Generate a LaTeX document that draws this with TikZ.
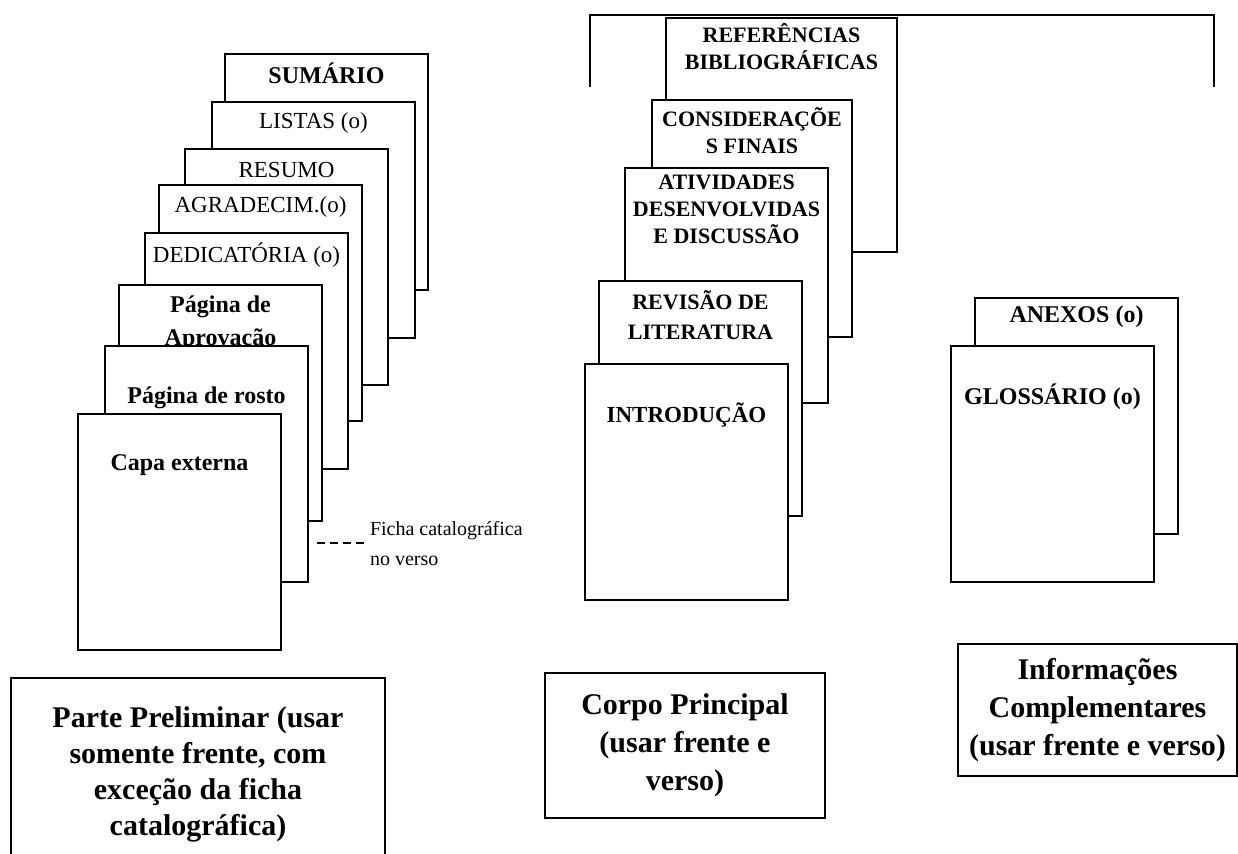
\documentclass[tikz,border=0pt]{standalone}
\usepackage{fontspec}
\setmainfont{Liberation Serif}
\usetikzlibrary{positioning}

\begin{document}
\begin{tikzpicture}[x=0.5pt,y=-0.5pt,line width=1pt]
\tikzstyle{page}=[draw, fill=white, anchor=north west, minimum width=101.5pt, minimum height=118pt, inner sep=0pt]
\tikzstyle{txt}=[align=center, inner sep=0pt, font=\fontsize{11.5}{13.8}\selectfont]
\tikzstyle{btxt}=[txt, font=\fontsize{12}{13.8}\selectfont\bfseries]
\tikzstyle{mtxt}=[txt, font=\fontsize{11}{13.5}\selectfont\bfseries]
\tikzstyle{part}=[draw, align=center, font=\fontsize{15}{18}\selectfont\bfseries]
\path[use as bounding box, fill=white] (0,0) rectangle (1238,854);

% parte preliminar
\node[page] (sumario) at (224,53) {};
\node[btxt] (sumariotxt) at ([yshift=-10pt]sumario.north) {SUMÁRIO};
\node[page] (listas) at (211,101) {};
\node[txt] (listastxt) at ([yshift=-11pt]listas.north) {LISTAS (o)};
\node[page] (resumo) at (184,148) {};
\node[txt] (resumotxt) at ([yshift=-11pt]resumo.north) {RESUMO};
\node[page] (agradec) at (158,184) {};
\node[txt] (agradectxt) at ([yshift=-11.5pt]agradec.north) {AGRADECIM.(o)};
\node[page] (dedic) at (144,232) {};
\node[txt] (dedictxt) at ([yshift=-11.5pt]dedic.north) {DEDICATÓRIA (o)};
\node[page] (aprov) at (118,284) {};
\node[btxt, font=\fontsize{12}{16.5}\selectfont\bfseries] (aprovtxt) at ([yshift=-19.75pt]aprov.north) {Página de\\Aprovação};
\node[page] (rosto) at (104,345) {};
\node[btxt] (rostotxt) at ([yshift=-26.5pt]rosto.north) {Página de rosto};
\node[page] (capa) at (77,413) {};
\node[btxt] (capatxt) at ([yshift=-26pt]capa.north) {Capa externa};
\node[anchor=west, align=left, inner sep=1.5pt, font=\fontsize{10}{15}\selectfont] (ficha) at (366,544) {Ficha catalográfica\\no verso};
\coordinate (fichadash) at (317,543);
\draw[line width=0.6pt, dash pattern=on 4pt off 2.5pt] (fichadash) -- (fichadash -| ficha.west);

% corpo principal
\draw[line width=1.2pt] (590,87) |- (1214,15) -- (1214,87);
\node[page, minimum width=115.5pt, minimum height=117pt] (refs) at (665,17) {};
\node[mtxt] (refstxt) at ([yshift=-14.75pt]refs.north) {REFERÊNCIAS\\BIBLIOGRÁFICAS};
\node[page, minimum width=100pt, minimum height=118.5pt] (consid) at (651,99) {};
\node[mtxt] (considtxt) at ([yshift=-15.75pt]consid.north) {CONSIDERAÇÕE\\S FINAIS};
\node[page, minimum height=117.5pt] (ativ) at (624,167) {};
\node[mtxt] (ativtxt) at ([yshift=-21pt]ativ.north) {ATIVIDADES\\DESENVOLVIDAS\\E DISCUSSÃO};
\node[page, minimum height=117.5pt] (revisao) at (598,280) {};
\node[mtxt, font=\fontsize{11}{15}\selectfont\bfseries] (revisaotxt) at ([yshift=-17.5pt]revisao.north) {REVISÃO DE\\LITERATURA};
\node[page] (intro) at (584,363) {};
\node[mtxt, font=\fontsize{11.5}{13.5}\selectfont\bfseries] (introtxt) at ([yshift=-26pt]intro.north) {INTRODUÇÃO};

% informacoes complementares
\node[page] (anexos) at (974,297) {};
\node[btxt] (anexostxt) at ([yshift=-10pt]anexos.north) {ANEXOS (o)};
\node[page] (gloss) at (950,345) {};
\node[btxt] (glosstxt) at ([yshift=-26pt]gloss.north) {GLOSSÁRIO (o)};

% legendas
\node[part, minimum width=187pt, minimum height=96.5pt] (parte) at (198,774.5) {Parte Preliminar (usar\\somente frente, com\\exceção da ficha\\catalográfica)};
\node[part, font=\fontsize{15}{19}\selectfont\bfseries, minimum width=140pt, minimum height=72.5pt] (corpo) at (685,745.5) {Corpo Principal\\(usar frente e\\verso)};
\node[part, font=\fontsize{15}{19}\selectfont\bfseries, minimum width=139.5pt, minimum height=66pt] (info) at (1097.5,710) {Informações\\Complementares\\(usar frente e verso)};
\end{tikzpicture}
\end{document}
